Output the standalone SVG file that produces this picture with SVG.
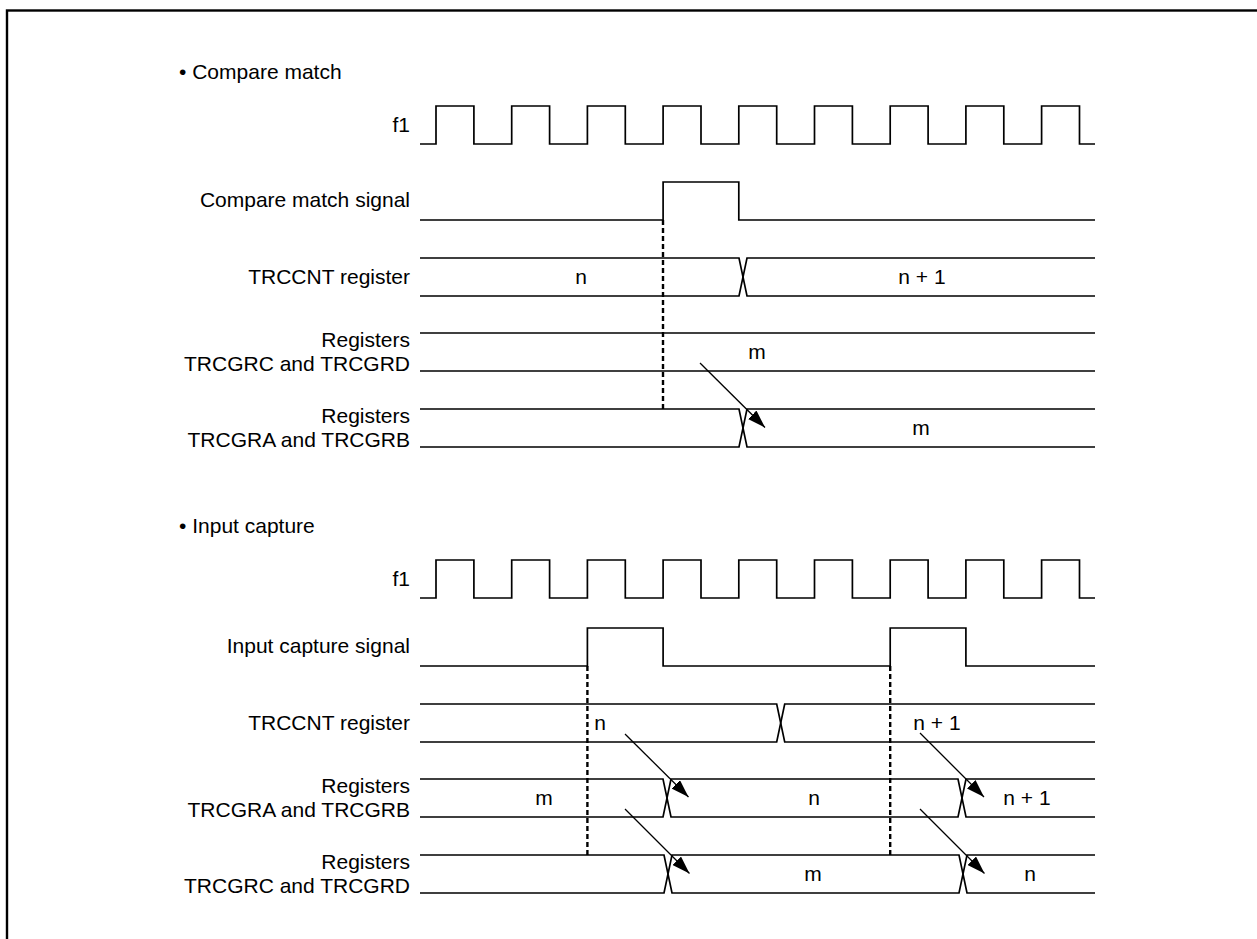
<svg xmlns="http://www.w3.org/2000/svg" width="1257" height="939" viewBox="0 0 1257 939">
<style>
text{font-family:"Liberation Sans",Arial,sans-serif;font-size:21px;fill:#000}
.lbl{text-anchor:end}
.val{text-anchor:middle}
.w{fill:none;stroke:#000;stroke-width:1.7;stroke-linejoin:miter}
.dash{fill:none;stroke:#000;stroke-width:2.4;stroke-dasharray:5 3}
.arr{fill:none;stroke:#000;stroke-width:1.3;marker-end:url(#ah)}
</style>
<defs>
<marker id="ah" viewBox="0 0 18 12" refX="18" refY="6" markerWidth="18" markerHeight="12" markerUnits="userSpaceOnUse" orient="auto">
<path d="M0,0 L18,6 L0,12 z" fill="#000"/>
</marker>
</defs>
<rect x="0" y="0" width="1257" height="939" fill="#fff"/>
<rect x="7" y="10.5" width="1270" height="950" fill="none" stroke="#000" stroke-width="2.4"/>

<g id="section-compare">
<text x="179" y="79">• Compare match</text>
</g>
<g id="clk1">
<text class="lbl" x="410" y="132">f1</text>
<path class="w" d="M420,144 H436 V106 H473.9 V144 H511.7 V106 H549.6 V144 H587.4 V106 H625.3 V144 H663.1 V106 H701 V144 H738.8 V106 H776.7 V144 H814.5 V106 H852.4 V144 H890.2 V106 H928.1 V144 H965.9 V106 H1003.8 V144 H1041.6 V106 H1079.5 V144 H1095"/>
</g>
<g id="cmp-signal">
<text class="lbl" x="410" y="207">Compare match signal</text>
<path class="w" d="M420,220 H663.1 V182 H738.8 V220 H1095"/>
</g>
<g id="cnt1">
<text class="lbl" x="410" y="284">TRCCNT register</text>
<path class="w" d="M420,258 H739 L747,296 H1095"/>
<path class="w" d="M420,296 H739 L747,258 H1095"/>
<text class="val" x="581" y="284">n</text>
<text class="val" x="922" y="284">n + 1</text>
</g>
<g id="grc1">
<text class="lbl" x="410" y="347">Registers</text>
<text class="lbl" x="410" y="371">TRCGRC and TRCGRD</text>
<path class="w" d="M420,333 H1095"/>
<path class="w" d="M420,371 H1095"/>
<text class="val" x="757" y="359">m</text>
</g>
<g id="gra1">
<text class="lbl" x="410" y="423">Registers</text>
<text class="lbl" x="410" y="447">TRCGRA and TRCGRB</text>
<path class="w" d="M420,409 H739 L747,447 H1095"/>
<path class="w" d="M420,447 H739 L747,409 H1095"/>
<text class="val" x="921" y="435">m</text>
</g>

<g id="section-capture">
<text x="179" y="533">• Input capture</text>
</g>
<g id="clk2">
<text class="lbl" x="410" y="586">f1</text>
<path class="w" d="M420,598 H436 V560 H473.9 V598 H511.7 V560 H549.6 V598 H587.4 V560 H625.3 V598 H663.1 V560 H701 V598 H738.8 V560 H776.7 V598 H814.5 V560 H852.4 V598 H890.2 V560 H928.1 V598 H965.9 V560 H1003.8 V598 H1041.6 V560 H1079.5 V598 H1095"/>
</g>
<g id="cap-signal">
<text class="lbl" x="410" y="653">Input capture signal</text>
<path class="w" d="M420,666 H587.4 V628 H663.1 V666 H890.2 V628 H965.9 V666 H1095"/>
</g>
<g id="cnt2">
<text class="lbl" x="410" y="730">TRCCNT register</text>
<path class="w" d="M420,704 H776.7 L784.7,742 H1095"/>
<path class="w" d="M420,742 H776.7 L784.7,704 H1095"/>
<text class="val" x="600" y="730">n</text>
<text class="val" x="937" y="730">n + 1</text>
</g>
<g id="gra2">
<text class="lbl" x="410" y="793">Registers</text>
<text class="lbl" x="410" y="817">TRCGRA and TRCGRB</text>
<path class="w" d="M420,779 H663 L671,817 H958 L966,779 H1095"/>
<path class="w" d="M420,817 H663 L671,779 H958 L966,817 H1095"/>
<text class="val" x="544" y="805">m</text>
<text class="val" x="814" y="805">n</text>
<text class="val" x="1027" y="805">n + 1</text>
</g>
<g id="grc2">
<text class="lbl" x="410" y="869">Registers</text>
<text class="lbl" x="410" y="893">TRCGRC and TRCGRD</text>
<path class="w" d="M420,855 H664 L672,893 H959 L967,855 H1095"/>
<path class="w" d="M420,893 H664 L672,855 H959 L967,893 H1095"/>
<text class="val" x="813" y="881">m</text>
<text class="val" x="1030" y="881">n</text>
</g>

<g id="connectors">
<path class="dash" d="M663,220 V409"/>
<path class="dash" d="M587.4,666 V855"/>
<path class="dash" d="M890.2,666 V855"/>
<path class="arr" d="M700,363 L765,427.5"/>
<path class="arr" d="M625,734 L688.5,797"/>
<path class="arr" d="M920,733 L984,797"/>
<path class="arr" d="M625,809 L689.5,873.5"/>
<path class="arr" d="M920,809 L984.5,873.5"/>
</g>
</svg>
